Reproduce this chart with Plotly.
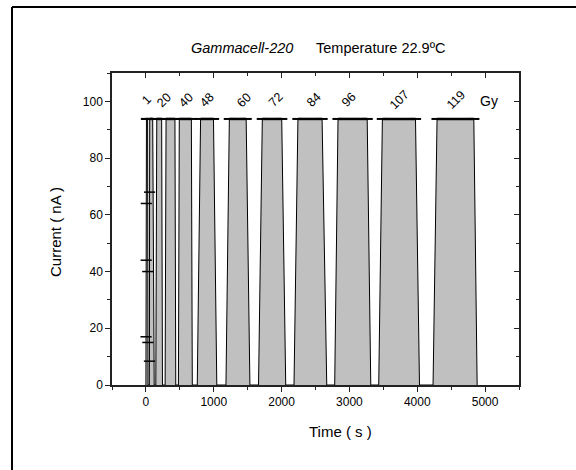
import plotly.graph_objects as go

# ---- data ----
time_s = [0, 2, 4, 6, 8, 25, 27, 29, 31, 50, 52, 54, 56, 100, 122,
          146, 160, 232, 244, 283, 297, 428, 440, 479, 492, 670, 684,
          757, 806, 996, 1045, 1180, 1230, 1478, 1533, 1660, 1716, 2002, 2061,
          2183, 2241, 2597, 2666, 2783, 2832, 3262, 3315, 3432, 3486, 3974, 4033,
          4233, 4292, 4834, 4883]
current_nA = [0, 17, 44, 64, 93.8, 93.8, 40, 15, 0, 0, 8.4, 68, 93.8, 93.8, 0,
              0, 93.8, 93.8, 0, 0, 93.8, 93.8, 0, 0, 93.8, 93.8, 0,
              0, 93.8, 93.8, 0, 0, 93.8, 93.8, 0, 0, 93.8, 93.8, 0,
              0, 93.8, 93.8, 0, 0, 93.8, 93.8, 0, 0, 93.8, 93.8, 0,
              0, 93.8, 93.8, 0]
dose_labels = ["1", "20", "40", "48", "60", "72", "84", "96", "107", "119"]
dose_label_t = [10, 270, 596, 900, 1450, 1912, 2475, 2988, 3735, 4570]
dose_label_y = 100.5

FONT = "Liberation Sans, Arial, sans-serif"

# plateau segments (top of each pulse) built from the data
pt_x, pt_y = [], []
for t, c in zip(time_s, current_nA):
    if c >= 90:
        pt_x.append(t); pt_y.append(c)
    elif pt_x and pt_x[-1] is not None:
        pt_x.append(None); pt_y.append(None)

fig = go.Figure()
fig.add_trace(go.Scatter(
    x=time_s, y=current_nA, mode="lines", fill="tozeroy",
    fillcolor="#c0c0c0", line=dict(color="black", width=1),
    showlegend=False, hoverinfo="skip"))
fig.add_trace(go.Scatter(
    x=pt_x, y=pt_y, mode="lines+markers",
    line=dict(color="black", width=2.5),
    marker=dict(symbol="line-ew", size=8, line=dict(color="black", width=2)),
    showlegend=False, hoverinfo="skip"))
# early ramp samples shown as dashes
early_x = [t for t, c in zip(time_s, current_nA) if 0 < c < 90]
early_y = [c for t, c in zip(time_s, current_nA) if 0 < c < 90]
fig.add_trace(go.Scatter(
    x=early_x, y=early_y, mode="markers",
    marker=dict(symbol="line-ew", size=8, line=dict(color="black", width=1.5)),
    showlegend=False, hoverinfo="skip"))
# dummy trace for mirrored axes
fig.add_trace(go.Scatter(x=[None], y=[None], xaxis="x2", yaxis="y2",
                         showlegend=False, hoverinfo="skip"))

for lab, t in zip(dose_labels, dose_label_t):
    fig.add_annotation(x=t, y=dose_label_y, text=lab, showarrow=False,
                       textangle=-45, font=dict(family=FONT, size=12.5, color="black"),
                       xanchor="center", yanchor="middle")
fig.add_annotation(x=5053, y=100.2, text="Gy", showarrow=False,
                   font=dict(family=FONT, size=14, color="black"),
                   xanchor="center", yanchor="middle")

# titles
fig.add_annotation(xref="paper", yref="paper", x=(242 - 112) / 407, y=(385 - 48) / 312,
                   text="<i>Gammacell-220</i>", showarrow=False,
                   font=dict(family=FONT, size=14.5, color="black"),
                   xanchor="center", yanchor="middle")
fig.add_annotation(xref="paper", yref="paper", x=(380 - 112) / 407, y=(385 - 48) / 312,
                   text="Temperature 22.9ºC", showarrow=False,
                   font=dict(family=FONT, size=14.5, color="black"),
                   xanchor="center", yanchor="middle")
fig.add_annotation(xref="paper", yref="paper", x=(340 - 112) / 407, y=(385 - 431) / 312,
                   text="Time ( s )", showarrow=False,
                   font=dict(family=FONT, size=15, color="black"),
                   xanchor="center", yanchor="middle")
fig.add_annotation(xref="paper", yref="paper", x=(55 - 112) / 407, y=(385 - 232) / 312,
                   text="Current ( nA )", showarrow=False, textangle=-90,
                   font=dict(family=FONT, size=15, color="black"),
                   xanchor="center", yanchor="middle")

# outer frame (top and left edges)
fig.add_shape(type="line", xref="paper", yref="paper",
              x0=(12 - 112) / 407, x1=(576 - 112) / 407,
              y0=(385 - 7) / 312, y1=(385 - 7) / 312,
              line=dict(color="black", width=2))
fig.add_shape(type="line", xref="paper", yref="paper",
              x0=(12 - 112) / 407, x1=(12 - 112) / 407,
              y0=(385 - 7) / 312, y1=(385 - 470) / 312,
              line=dict(color="black", width=2))

axis_line = dict(showline=True, linecolor="#222", linewidth=1.5, showgrid=False,
                 zeroline=False)
fig.update_layout(
    width=576, height=470,
    margin=dict(l=112, r=57, t=73, b=85),
    paper_bgcolor="white", plot_bgcolor="white",
    font=dict(family=FONT, size=12, color="black"),
    xaxis=dict(range=[-500, 5500], dtick=1000, tick0=0, ticks="outside",
               ticklen=5, tickwidth=1, tickcolor="#222",
               minor=dict(dtick=500, tick0=0, ticks="outside", ticklen=3, tickcolor="#222"),
               tickfont=dict(family=FONT, size=12), **axis_line),
    yaxis=dict(range=[0, 110], dtick=20, tick0=0, ticks="outside",
               ticklen=5, tickwidth=1, tickcolor="#222",
               minor=dict(dtick=10, tick0=0, ticks="outside", ticklen=3, tickcolor="#222"),
               tickfont=dict(family=FONT, size=12), **axis_line),
    xaxis2=dict(range=[-500, 5500], dtick=1000, tick0=0, ticks="inside", side="top",
                overlaying="x", ticklen=5, tickcolor="#222", showticklabels=False,
                minor=dict(dtick=500, tick0=0, ticks="inside", ticklen=3, tickcolor="#222"),
                **axis_line),
    yaxis2=dict(range=[0, 110], dtick=20, tick0=0, ticks="inside", side="right",
                overlaying="y", ticklen=5, tickcolor="#222", showticklabels=False,
                minor=dict(dtick=10, tick0=0, ticks="inside", ticklen=3, tickcolor="#222"),
                **axis_line),
)

fig.write_html("out.html")
